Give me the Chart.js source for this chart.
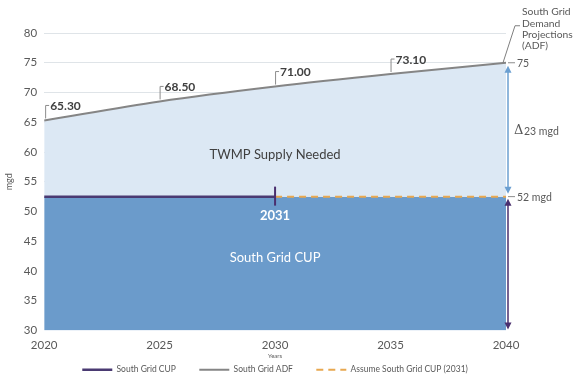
<!DOCTYPE html>
<html>
<head>
<meta charset="utf-8">
<script src="https://cdn.jsdelivr.net/npm/chart.js@4/dist/chart.umd.min.js"></script>
<style>
html,body{margin:0;padding:0;background:#fff;}
#wrap{width:585px;height:385px;position:relative;}
</style>
</head>
<body>
<div id="wrap"><canvas id="c" width="585" height="385"></canvas></div>
<script>
// ---- data ----
const adfYears = [2020, 2025, 2030, 2035, 2040];
const adfValues = [65.3, 68.5, 71.0, 73.1, 75.0];
const cupValue = 52.5;
const cupYears = [2020, 2030];
const assumeYears = [2030, 2040];
const baseYears = [2020, 2025, 2030, 2035, 2040];
const xTicks = [2020, 2025, 2030, 2035, 2040];
const yMin = 30, yMax = 80, yStep = 5;
const seriesNames = ['South Grid CUP', 'South Grid ADF', 'Assume South Grid CUP (2031)'];
const cupMarkerYear = 2030;
const cupMarkerLabel = '2031';
const deltaLabel = '23 mgd';
const endAdfLabel = '75';
const endCupLabel = '52 mgd';

const FONT = 'Lato, "Open Sans", sans-serif';
const TXT = '#595959';

const annot = {
  id: 'annot',
  afterDatasetsDraw(chart) {
    const ctx = chart.ctx;
    const xs = chart.scales.x, ys = chart.scales.y;
    const area = chart.chartArea;
    ctx.save();
    // value labels with leader brackets
    ctx.font = 'bold 12px ' + FONT;
    ctx.fillStyle = '#404040';
    ctx.textBaseline = 'middle';
    ctx.textAlign = 'left';
    ctx.strokeStyle = '#8c8c8c';
    ctx.lineWidth = 1;
    for (let i = 0; i < adfYears.length - 1; i++) {
      const px = xs.getPixelForValue(adfYears[i]) + (i === 0 ? 1 : 0);
      const py = ys.getPixelForValue(adfValues[i]);
      const ty = py - 15;
      ctx.beginPath();
      ctx.moveTo(px + 0.5, py - 2);
      ctx.lineTo(px + 0.5, ty);
      ctx.lineTo(px + 4, ty);
      ctx.stroke();
      ctx.fillText(adfValues[i].toFixed(2), px + 5, ty + 1);
    }
    // right side annotations
    const ax = area.right + 2;
    const yTop = ys.getPixelForValue(adfValues[adfValues.length - 1]);
    const yCup = ys.getPixelForValue(cupValue);
    const yBot = ys.getPixelForValue(yMin);
    // ADF end leader to note
    ctx.strokeStyle = '#7f7f7f';
    ctx.beginPath();
    ctx.moveTo(area.right - 3, yTop);
    ctx.lineTo(area.right + 9, yTop - 37);
    ctx.lineTo(area.right + 14, yTop - 37);
    ctx.stroke();
    ctx.font = '10.3px ' + FONT;
    ctx.fillStyle = TXT;
    const note = ['South Grid', 'Demand', 'Projections', '(ADF)'];
    note.forEach((t, k) => ctx.fillText(t, area.right + 16, 12 + k * 11.3));
    // small dashes + value text
    ctx.strokeStyle = '#8c8c8c';
    ctx.beginPath();
    ctx.moveTo(area.right + 2, yTop); ctx.lineTo(area.right + 9, yTop);
    ctx.moveTo(area.right + 2, yCup); ctx.lineTo(area.right + 9, yCup);
    ctx.stroke();
    ctx.font = '10.5px ' + FONT;
    ctx.fillText(endAdfLabel, area.right + 11, yTop + 1);
    ctx.fillText(endCupLabel, area.right + 11, yCup + 1);
    // arrows
    function dblArrow(x, y1, y2, col) {
      ctx.strokeStyle = col; ctx.fillStyle = col; ctx.lineWidth = 1.5;
      ctx.beginPath(); ctx.moveTo(x, y1 + 5); ctx.lineTo(x, y2 - 5); ctx.stroke();
      ctx.beginPath(); ctx.moveTo(x, y1); ctx.lineTo(x - 3.5, y1 + 7); ctx.lineTo(x + 3.5, y1 + 7); ctx.closePath(); ctx.fill();
      ctx.beginPath(); ctx.moveTo(x, y2); ctx.lineTo(x - 3.5, y2 - 7); ctx.lineTo(x + 3.5, y2 - 7); ctx.closePath(); ctx.fill();
    }
    dblArrow(ax, yTop + 3, yCup - 3, '#6b9fd1');
    dblArrow(ax, yCup + 2, yBot - 1, '#4a2f6e');
    // delta label
    ctx.fillStyle = TXT;
    ctx.font = '13px "DejaVu Serif", serif';
    ctx.fillText('\u0394', area.right + 8, (yTop + yCup) / 2 + 1);
    ctx.font = '10.5px ' + FONT;
    ctx.fillText(deltaLabel, area.right + 18, (yTop + yCup) / 2 + 2);
    // 2031 marker
    const mx = xs.getPixelForValue(cupMarkerYear);
    ctx.strokeStyle = '#4a2f6e'; ctx.lineWidth = 2;
    ctx.beginPath(); ctx.moveTo(mx, yCup - 10); ctx.lineTo(mx, yCup + 9); ctx.stroke();
    ctx.fillStyle = '#ffffff';
    ctx.font = 'bold 13px ' + FONT;
    ctx.textAlign = 'center';
    ctx.fillText(cupMarkerLabel, mx, yCup + 19);
    // region labels
    const cx = (area.left + area.right) / 2;
    ctx.font = '13px ' + FONT;
    ctx.fillStyle = '#404040';
    ctx.fillText('TWMP Supply Needed', cx, ys.getPixelForValue(59.5));
    ctx.fillStyle = '#ffffff';
    ctx.fillText('South Grid CUP', cx, ys.getPixelForValue(42.2));
    ctx.restore();
  }
};

new Chart(document.getElementById('c'), {
  type: 'line',
  data: {
    datasets: [
      {
        label: seriesNames[0],
        data: cupYears.map(x => ({x, y: cupValue})),
        borderColor: '#4a3a72',
        backgroundColor: '#4a3a72',
        borderWidth: 2.5,
        pointRadius: 0,
        fill: false
      },
      {
        label: seriesNames[1],
        data: adfYears.map((x, i) => ({x, y: adfValues[i]})),
        borderColor: '#858585',
        backgroundColor: '#858585',
        borderWidth: 2,
        pointRadius: 0,
        tension: 0.4,
        cubicInterpolationMode: 'monotone',
        fill: {target: 3, above: '#dce8f4', below: '#dce8f4'}
      },
      {
        label: seriesNames[2],
        data: assumeYears.map(x => ({x, y: cupValue})),
        borderColor: '#e8a850',
        backgroundColor: '#e8a850',
        borderWidth: 2,
        borderDash: [7, 5],
        pointRadius: 0,
        fill: false
      },
      {
        label: 'base',
        data: baseYears.map(x => ({x, y: cupValue})),
        borderWidth: 0,
        borderColor: 'rgba(0,0,0,0)',
        pointRadius: 0,
        fill: {target: 'start', above: '#6b9bcb', below: '#6b9bcb'},
        backgroundColor: '#6b9bcb'
      }
    ]
  },
  options: {
    responsive: false,
    animation: false,
    layout: {padding: {left: 4, right: 79, top: 33, bottom: 1}},
    plugins: {
      filler: {drawTime: 'beforeDatasetsDraw'},
      tooltip: {enabled: false},
      legend: {
        position: 'bottom',
        fullSize: false,
        labels: {
          filter: item => item.datasetIndex < 3,
          generateLabels: chart => {
            const items = Chart.defaults.plugins.legend.labels.generateLabels(chart);
            items.forEach(it => {
              const ds = chart.data.datasets[it.datasetIndex];
              it.lineDash = ds.borderDash || [];
              it.strokeStyle = ds.borderColor;
              it.lineWidth = ds.borderWidth;
              if (it.datasetIndex < 2) it.text = it.text + '        ';
            });
            return items;
          },
          usePointStyle: true,
          pointStyle: 'line',
          pointStyleWidth: 30,
          boxWidth: 30,
          boxHeight: 8,
          padding: 6,
          color: TXT,
          font: {family: FONT, size: 8.5}
        }
      }
    },
    scales: {
      x: {
        type: 'linear',
        min: xTicks[0],
        max: xTicks[xTicks.length - 1],
        afterBuildTicks: s => { s.ticks = xTicks.map(v => ({value: v})); },
        ticks: {color: TXT, font: {family: FONT, size: 11.5}, padding: 0, callback: v => String(v)},
        grid: {display: false},
        border: {display: false},
        title: {display: true, text: 'Years', color: TXT, font: {family: FONT, size: 6}, padding: {top: 0, bottom: 0}}
      },
      y: {
        min: yMin,
        max: yMax,
        z: 1,
        ticks: {stepSize: yStep, color: TXT, font: {family: FONT, size: 11.5}, padding: 7},
        grid: {
          drawTicks: false,
          color: c => c.tick.value === yMin ? 'rgba(0,0,0,0)' : (c.tick.value < cupValue ? 'rgba(255,255,255,0.25)' : 'rgba(150,165,180,0.3)'),
          lineWidth: 1
        },
        border: {display: false},
        title: {display: true, text: 'mgd', color: TXT, font: {family: FONT, size: 9}, padding: {top: 0, bottom: 2}}
      }
    }
  },
  plugins: [annot]
});
</script>
</body>
</html>
